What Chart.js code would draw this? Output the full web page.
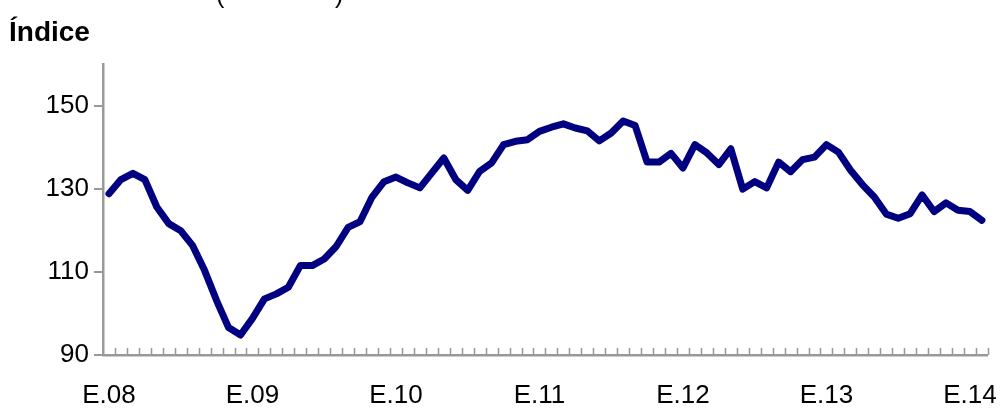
<!DOCTYPE html>
<html lang="es">
<head>
<meta charset="UTF-8">
<title>Índice</title>
<script src="https://cdn.jsdelivr.net/npm/chart.js"></script>
<style>
body { margin: 0; background: #fff; }
#chart { position: absolute; left: 0; top: 0; }
</style>
</head>
<body>
<canvas id="chart" width="1007" height="411"></canvas>
<script>
// meses desde E.08 hasta F.14
const monthLetters = ['E', 'F', 'M', 'A', 'M', 'J', 'J', 'A', 'S', 'O', 'N', 'D'];
const years = ['08', '09', '10', '11', '12', '13', '14'];
const yTicks = [90, 110, 130, 150];

const indexValues = [
  128.8, 132.2, 133.7, 132.2, 125.6, 121.6, 119.9, 116.3, 110.3, 103.1, 96.6, 94.8,
  98.8, 103.5, 104.7, 106.3, 111.5, 111.5, 113.1, 116.1, 120.7, 122.1, 128.0, 131.7,
  132.8, 131.4, 130.2, 133.8, 137.4, 132.2, 129.6, 134.2, 136.2, 140.6, 141.4, 141.8,
  143.8, 144.8, 145.6, 144.6, 143.9, 141.5, 143.4, 146.3, 145.2, 136.4, 136.4, 138.5,
  135.0, 140.6, 138.6, 135.8, 139.6, 129.9, 131.7, 130.2, 136.4, 134.1, 137.0, 137.6,
  140.6, 138.8, 134.5, 131.0, 128.0, 123.9, 122.9, 124.0, 128.5, 124.5, 126.6, 124.8,
  124.5, 122.4
];

const labels = [];
years.forEach(y => monthLetters.forEach(m => labels.push(m + '.' + y)));
labels.length = indexValues.length;

const axisGray = '#999999';
const fontFam = '"Liberation Sans", Arial, sans-serif';

// marcas mensuales pequeñas sobre el eje X y textos de cabecera
const extras = {
  id: 'extras',
  afterDraw(chart) {
    const c = chart.ctx;
    const xs = chart.scales.x;
    const step = xs.width / labels.length;
    c.save();
    c.strokeStyle = axisGray;
    c.lineWidth = 1.5;
    c.beginPath();
    for (let i = 1; i <= labels.length; i++) {
      const x = Math.round(xs.left + i * step) + 0.5;
      c.moveTo(x, xs.top);
      c.lineTo(x, xs.top - 7);
    }
    c.stroke();
    c.fillStyle = '#000';
    c.font = 'bold 28px ' + fontFam;
    c.textBaseline = 'alphabetic';
    c.fillText('Índice', 9, 41);
    c.font = '25px ' + fontFam;
    c.fillText('(', 216, 3);
    c.fillText(')', 335, 3);
    c.restore();
  }
};

new Chart(document.getElementById('chart'), {
  type: 'line',
  data: {
    labels: labels,
    datasets: [{
      data: indexValues,
      borderColor: '#000080',
      borderWidth: 7,
      pointRadius: 0,
      tension: 0,
      borderJoinStyle: 'round',
      borderCapStyle: 'round'
    }]
  },
  options: {
    responsive: false,
    animation: false,
    devicePixelRatio: 1,
    layout: { padding: { top: 64, right: 12, left: 0, bottom: 0 } },
    plugins: { legend: { display: false }, tooltip: { enabled: false } },
    scales: {
      x: {
        offset: true,
        grid: { display: false, drawOnChartArea: false, drawTicks: false },
        border: { display: true, color: axisGray, width: 2.5 },
        ticks: {
          autoSkip: false,
          maxRotation: 0,
          padding: 25,
          color: '#000',
          font: { family: fontFam, size: 26 },
          callback: function (v, i) {
            const l = labels[i];
            return l.startsWith('E.') ? l : '';
          }
        },
        afterFit: s => { s.height = 56; }
      },
      y: {
        min: 90,
        max: 160,
        grid: { drawOnChartArea: false, drawTicks: true, tickLength: 9, color: axisGray, lineWidth: 2 },
        border: { display: true, color: axisGray, width: 2.5 },
        ticks: {
          stepSize: 20,
          includeBounds: false,
          padding: 5,
          color: '#000',
          font: { family: fontFam, size: 26 }
        },
        afterBuildTicks: s => { s.ticks = yTicks.map(v => ({ value: v })); },
        afterFit: s => { s.width = 103; }
      }
    }
  },
  plugins: [extras]
});
</script>
</body>
</html>
